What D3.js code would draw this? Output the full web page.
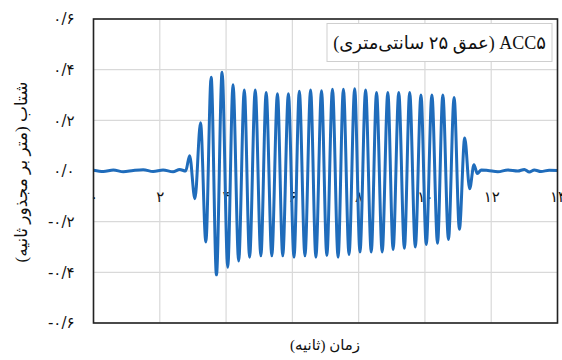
<!DOCTYPE html>
<html><head><meta charset="utf-8">
<script src="https://cdn.jsdelivr.net/npm/d3@7"></script>
<style>
html,body{margin:0;padding:0;background:#fff;}
svg{display:block;}
text{font-family:"Liberation Serif","DejaVu Sans",serif;}
</style></head>
<body>
<svg id="chart" width="562" height="360"></svg>
<script>
// ---- data ----
const times = [0,0.3,0.6,0.9,1.2,1.5,1.8,2.1,2.4,2.6,2.78,
  2.90,3.06,3.23,3.39,3.55,3.71,3.88,4.05,4.21,4.38,4.55,4.71,4.88,5.05,5.21,5.38,5.55,5.71,5.88,6.05,
  6.21,6.38,6.55,6.71,6.88,7.04,7.21,7.38,7.54,7.71,7.88,8.04,8.21,8.38,8.54,8.71,8.88,9.04,9.21,9.38,
  9.54,9.71,9.88,10.04,10.21,10.38,10.54,10.71,10.88,11.04,11.20,11.35,11.48,11.58,11.7,
  11.9,12.2,12.5,12.8,13.0,13.15,13.3,13.5,13.75,14.0];
const accel = [0.003,-0.002,0.004,-0.003,0.002,0.005,-0.002,0.004,-0.003,0.006,0.0,
  0.06,-0.11,0.19,-0.28,0.37,-0.41,0.39,-0.38,0.34,-0.355,0.32,-0.34,0.32,-0.335,0.31,-0.335,0.305,-0.335,0.305,-0.34,
  0.315,-0.335,0.32,-0.34,0.317,-0.334,0.323,-0.34,0.323,-0.33,0.325,-0.32,0.32,-0.32,0.31,-0.32,0.31,-0.31,0.31,-0.305,
  0.31,-0.30,0.30,-0.29,0.30,-0.285,0.30,-0.27,0.29,-0.23,0.13,-0.07,0.025,-0.01,0.004,
  0.002,-0.003,0.004,0.0,0.006,-0.004,0.004,-0.002,0.003,0.002];
const xTicks = [0,2,4,6,8,10,12,14];
const xTickLabels = ["۰","۲","۴","۶","۸","۱۰","۱۲","۱۴"];
const yTicks = [-0.6,-0.4,-0.2,0,0.2,0.4,0.6];
const yTickLabels = ["-۰/۶","-۰/۴","-۰/۲","۰/۰","۰/۲","۰/۴","۰/۶"];
const seriesName = "ACC۵ (عمق ۲۵ سانتی‌متری)";
const xTitle = "زمان (ثانیه)";
const yTitle = "شتاب (متر بر مجذور ثانیه)";

// ---- layout ----
const L = 93.5, R = 557.5, T = 19, B = 323;
const svg = d3.select("#chart");
const x = d3.scaleLinear().domain([0,14]).range([L,R]);
const y = d3.scaleLinear().domain([-0.6,0.6]).range([B,T]);

// grid
const g = svg.append("g");
g.selectAll("line.vg").data(xTicks).enter().append("line")
  .attr("x1",d=>x(d)).attr("x2",d=>x(d)).attr("y1",T).attr("y2",B)
  .attr("stroke","#d9d9d9").attr("stroke-width",1.2);
g.selectAll("line.hg").data(yTicks).enter().append("line")
  .attr("x1",L).attr("x2",R).attr("y1",d=>y(d)).attr("y2",d=>y(d))
  .attr("stroke","#d9d9d9").attr("stroke-width",1.2);

// x axis at zero
const xAxis = d3.axisBottom(x).tickValues(xTicks).tickSize(0).tickPadding(20)
  .tickFormat((d,i)=>xTickLabels[i]);
const xa = svg.append("g").attr("transform",`translate(0,${y(0)})`).call(xAxis);
xa.select(".domain").remove();
xa.selectAll("text").attr("font-size",15).attr("fill","#111")
  .style("font-family","'DejaVu Sans',sans-serif");

// y axis
const yAxis = d3.axisLeft(y).tickValues(yTicks).tickSize(0).tickPadding(19)
  .tickFormat((d,i)=>yTickLabels[i]);
const ya = svg.append("g").attr("transform",`translate(${L},0)`).call(yAxis);
ya.select(".domain").remove();
ya.selectAll("text").attr("font-size",15).attr("fill","#111")
  .style("font-family","'DejaVu Sans',sans-serif");

// line
const pts = times.map((t,i)=>[t,accel[i]]);
const line = d3.line().x(d=>x(d[0])).y(d=>y(d[1])).curve(d3.curveMonotoneX);
svg.append("path").datum(pts).attr("d",line)
  .attr("fill","none").attr("stroke","#1f6cbb").attr("stroke-width",3)
  .attr("stroke-linejoin","round");

// border
svg.append("rect").attr("x",L).attr("y",T).attr("width",R-L).attr("height",B-T)
  .attr("fill","none").attr("stroke","#222").attr("stroke-width",1.6);

// legend box
svg.append("rect").attr("x",327).attr("y",23.5).attr("width",225).attr("height",38)
  .attr("fill","#fff").attr("stroke","#cfcfcf").attr("stroke-width",1);
svg.append("text").attr("x",546).attr("y",49).attr("direction","rtl")
  .style("unicode-bidi","embed").attr("text-anchor","start")
  .attr("font-size",18).attr("fill","#111").text(seriesName);

// axis titles
svg.append("text").attr("x",325).attr("y",350).attr("direction","rtl")
  .attr("text-anchor","middle").attr("font-size",15).attr("fill","#111").text(xTitle);
svg.append("text").attr("transform","translate(27,172) rotate(-90)").attr("direction","rtl")
  .attr("text-anchor","middle").attr("font-size",17).attr("fill","#111").text(yTitle);
</script>
</body></html>
